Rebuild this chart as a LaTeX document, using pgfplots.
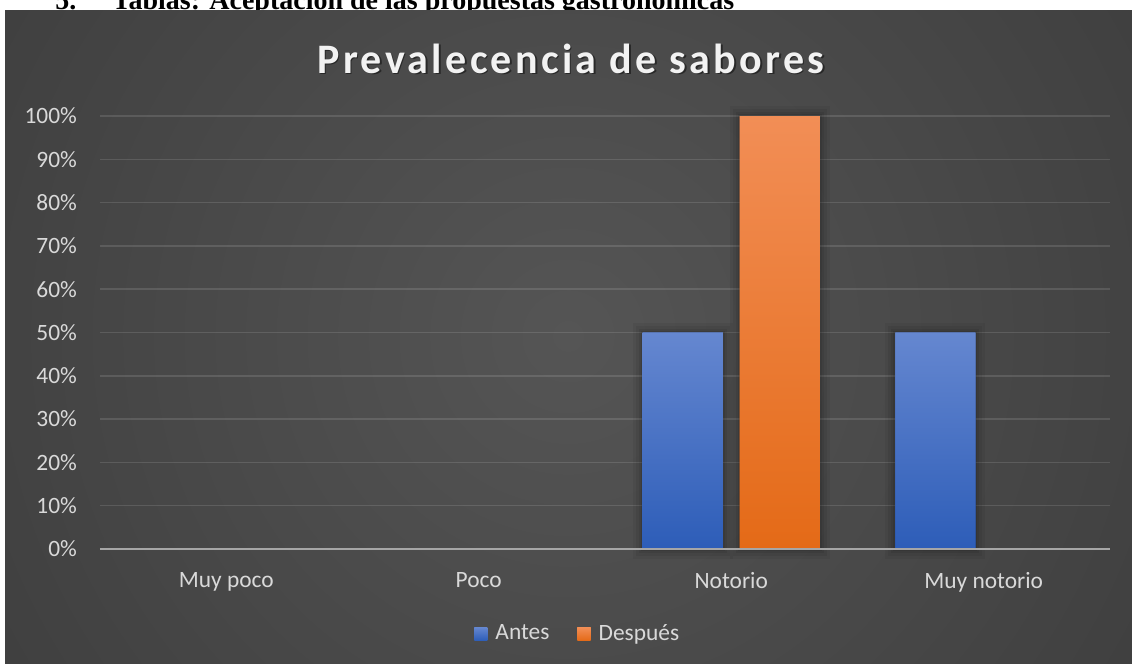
\documentclass[border=0pt]{standalone}
\usepackage{fontspec}
\setmainfont{Carlito}
\newfontfamily\titlefont{Carlito}[LetterSpace=8.0]
\newfontfamily\serifb{Liberation Serif}
\usepackage{pgfplots}
\pgfplotsset{compat=1.18}
\definecolor{bgc}{HTML}{555555}
\definecolor{bge}{HTML}{2A2A2A}
\definecolor{lab}{HTML}{D9D9D9}
\definecolor{titc}{HTML}{F2F2F2}
\definecolor{axc}{HTML}{A6A6A6}
\definecolor{blueT}{HTML}{6587D0}
\definecolor{blueB}{HTML}{2D5DB8}
\definecolor{orT}{HTML}{F28E56}
\definecolor{orB}{HTML}{E46A17}
\pgfdeclareradialshading{chartbg}{\pgfpoint{0bp}{0bp}}{color(0bp)=(bgc); color(25bp)=(bge); color(50bp)=(bge)}
\makeatletter
\tikzset{nopre/.code={\let\tikz@preactions\pgfutil@empty}}
\makeatother
\pgfplotsset{barshadow/.style={
  preaction={draw=black, draw opacity=0.05, line width=10pt},
  preaction={draw=black, draw opacity=0.06, line width=7pt},
  preaction={draw=black, draw opacity=0.07, line width=4pt},
  preaction={draw=black, draw opacity=0.08, line width=2pt}}}
\begin{document}
\begin{tikzpicture}
\path[use as bounding box] (0,0) rectangle (566pt,-332pt);
\node[anchor=base west, inner sep=0pt, font=\serifb\bfseries\fontsize{14pt}{16pt}\selectfont] at (27.5pt,-4.75pt) {5.};
\node[anchor=base west, inner sep=0pt, font=\serifb\bfseries\fontsize{14pt}{16pt}\selectfont] at (56pt,-4.75pt) {Tablas: Aceptación de las propuestas gastronómicas};
\begin{scope}
\clip (2.5pt,-5pt) rectangle (566pt,-332pt);
\shade[shading=chartbg] (284pt,-168pt) circle (660pt);
\end{scope}
\node[anchor=base, font=\titlefont\bfseries\fontsize{21pt}{25pt}\selectfont, text=black, opacity=0.45] at (286.3pt,-37.1pt) {Prevalecencia de sabores};
\node[anchor=base, font=\titlefont\bfseries\fontsize{21pt}{25pt}\selectfont, text=titc] at (285.5pt,-36.5pt) {Prevalecencia de sabores};
\begin{axis}[
  at={(50pt,-274.5pt)}, anchor=south west,
  scale only axis, width=505pt, height=216.5pt,
  xmin=-0.5, xmax=3.5, ymin=0, ymax=100,
  ybar=8.5pt, bar width=40pt,
  axis line style={draw=none}, tick style={draw=none},
  xtick={0,1,2,3}, xticklabels={Muy poco,Poco,Notorio,Muy notorio},
  ytick={0,10,20,30,40,50,60,70,80,90,100},
  yticklabels={0\%,10\%,20\%,30\%,40\%,50\%,60\%,70\%,80\%,90\%,100\%},
  ymajorgrids, grid style={white, opacity=0.12, line width=0.75pt},
  ticklabel style={font=\fontsize{11.7pt}{14pt}\selectfont, text=lab},
  yticklabel style={xshift=-8pt},
  xticklabel style={yshift=-4pt},
  legend style={at={(0.474,-0.196)}, anchor=center, draw=none, fill=none,
    text=lab, font=\fontsize{11.7pt}{14pt}\selectfont,
    /tikz/every even column/.append style={column sep=12pt}},
  legend columns=2,
  clip=false,
  y filter/.expression={y==0 ? nan : y},
]
\addplot[draw=none, barshadow, top color=blueT, bottom color=blueB,
  legend image code/.code={\fill[nopre, blueB!70!blueT] (0pt,-3.3pt) rectangle (6.6pt,3.3pt); \path[nopre] (0pt,0pt) -- (8.6pt,0pt);}]
  coordinates {(0,0) (1,0) (2,50) (3,50)};
\addplot[draw=none, barshadow, top color=orT, bottom color=orB,
  legend image code/.code={\fill[nopre, orB!70!orT] (0pt,-3.3pt) rectangle (6.6pt,3.3pt); \path[nopre] (0pt,0pt) -- (8.6pt,0pt);}]
  coordinates {(0,0) (1,0) (2,100) (3,0)};
\legend{Antes, Después}
\draw[color=axc, line width=1pt] (axis cs:-0.5,0) -- (axis cs:3.5,0);
\end{axis}
\end{tikzpicture}
\end{document}
